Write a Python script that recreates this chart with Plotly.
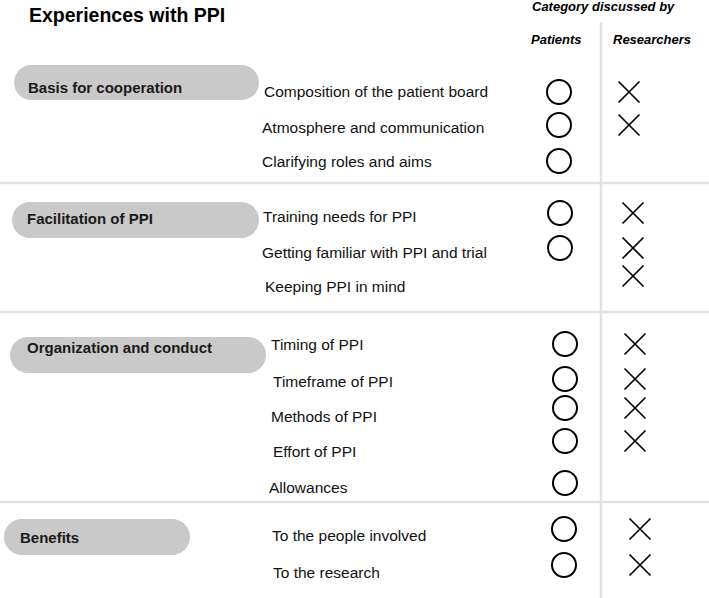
import plotly.graph_objects as go

# ---- data ----
title = "Experiences with PPI"
header = "Category discussed by"
columns = ["Patients", "Researchers"]
categories = ["Basis for cooperation", "Facilitation of PPI", "Organization and conduct", "Benefits"]
items = [
    "Composition of the patient board",
    "Atmosphere and communication",
    "Clarifying roles and aims",
    "Training needs for PPI",
    "Getting familiar with PPI and trial",
    "Keeping PPI in mind",
    "Timing of PPI",
    "Timeframe of PPI",
    "Methods of PPI",
    "Effort of PPI",
    "Allowances",
    "To the people involved",
    "To the research",
]
item_category = [0, 0, 0, 1, 1, 1, 2, 2, 2, 2, 2, 3, 3]
patients = [1, 1, 1, 1, 1, 0, 1, 1, 1, 1, 1, 1, 1]
researchers = [1, 1, 0, 1, 1, 1, 1, 1, 1, 1, 0, 1, 1]

# ---- layout (pixel space) ----
W, H = 709, 598
row_y = [92, 125, 161, 213, 248, 276, 344, 379, 408, 441, 483, 529, 565]
label_dy = [-1, 2, 0, 3, 4, 10, 0, 2, 8, 10, 4, 6, 7]
row_x = [262, 260, 260, 261, 260, 263, 269, 271, 269, 271, 267, 270, 271]
pill_box = [(14, 259, 65, 100), (12, 259, 202, 238), (10, 266, 337, 373), (4, 190, 519, 555)]
pill_text = [(28, 87), (27, 218), (27, 347), (20, 537)]
section_pat_x = [559, 560, 565, 564]
section_res_x = [629, 633, 635, 640]
sep_y = [183, 312, 502]
vline_x = 601

K = 0.5523

def pill(x0, x1, y0, y1):
    r = (y1 - y0) / 2
    ym = (y0 + y1) / 2
    a, b = x0 + r, x1 - r
    return (f"M{a},{y0} L{b},{y0} "
            f"C{b + K*r},{y0} {x1},{ym - K*r} {x1},{ym} "
            f"C{x1},{ym + K*r} {b + K*r},{y1} {b},{y1} "
            f"L{a},{y1} "
            f"C{a - K*r},{y1} {x0},{ym + K*r} {x0},{ym} "
            f"C{x0},{ym - K*r} {a - K*r},{y0} {a},{y0} Z")

fig = go.Figure()

px_, py_, rx_, ry_ = [], [], [], []
for i, y in enumerate(row_y):
    c = item_category[i]
    if patients[i]:
        px_.append(section_pat_x[c]); py_.append(y)
    if researchers[i]:
        rx_.append(section_res_x[c]); ry_.append(y)

fig.add_trace(go.Scatter(x=px_, y=py_, mode="markers",
                         marker=dict(symbol="circle-open", size=24, color="black",
                                     line=dict(width=2, color="black")),
                         hoverinfo="skip", showlegend=False))
fig.add_trace(go.Scatter(x=rx_, y=ry_, mode="markers",
                         marker=dict(symbol="x-thin-open", size=21, color="black",
                                     line=dict(width=1.7, color="black")),
                         hoverinfo="skip", showlegend=False))

shapes = []
for y in sep_y:
    shapes.append(dict(type="line", x0=0, x1=W, y0=y, y1=y, xref="x", yref="y",
                       line=dict(color="#e2e2e2", width=2.5), layer="below"))
shapes.append(dict(type="line", x0=vline_x, x1=vline_x, y0=22, y1=H, xref="x", yref="y",
                   line=dict(color="#e2e2e2", width=2.5), layer="below"))
for (x0, x1, y0, y1) in pill_box:
    shapes.append(dict(type="path", path=pill(x0, x1, y0, y1), xref="x", yref="y",
                       fillcolor="#c9c9c9", line=dict(width=0), layer="below"))

FONT = "Liberation Sans, Arial, Helvetica, sans-serif"
ann = []
ann.append(dict(x=27, y=15, text=f"<b>{title}</b>", showarrow=False, xanchor="left",
                yanchor="middle", font=dict(size=19.5, color="#000", family=FONT)))
ann.append(dict(x=603, y=6, text=f"<b><i>{header}</i></b>", showarrow=False, xanchor="center",
                yanchor="middle", font=dict(size=13, color="#000", family=FONT)))
ann.append(dict(x=556, y=39, text=f"<b><i>{columns[0]}</i></b>", showarrow=False, xanchor="center",
                yanchor="middle", font=dict(size=13, color="#000", family=FONT)))
ann.append(dict(x=652, y=39, text=f"<b><i>{columns[1]}</i></b>", showarrow=False, xanchor="center",
                yanchor="middle", font=dict(size=13, color="#000", family=FONT)))
for c, (tx, ty) in zip(categories, pill_text):
    ann.append(dict(x=tx - 2, y=ty, text=f"<b>{c}</b>", showarrow=False,
                    xanchor="left", yanchor="middle",
                    font=dict(size=15, color="#1a1a1a", family=FONT)))
for t, x, y, dy in zip(items, row_x, row_y, label_dy):
    ann.append(dict(x=x, y=y + dy, text=t, showarrow=False, xanchor="left", yanchor="middle",
                    font=dict(size=15.5, color="#111", family=FONT)))

fig.update_layout(
    width=W, height=H, margin=dict(l=0, r=0, t=0, b=0),
    paper_bgcolor="white", plot_bgcolor="white",
    xaxis=dict(range=[0, W], visible=False, fixedrange=True),
    yaxis=dict(range=[H, 0], visible=False, fixedrange=True),
    shapes=shapes, annotations=ann,
)
fig.write_html("out.html", config={"displayModeBar": False})

with open("out.html", encoding="utf-8") as f:
    html = f.read()
html = html.replace("<head>", "<head><style>html,body{margin:0;padding:0;overflow:hidden}</style>", 1)
with open("out.html", "w", encoding="utf-8") as f:
    f.write(html)
